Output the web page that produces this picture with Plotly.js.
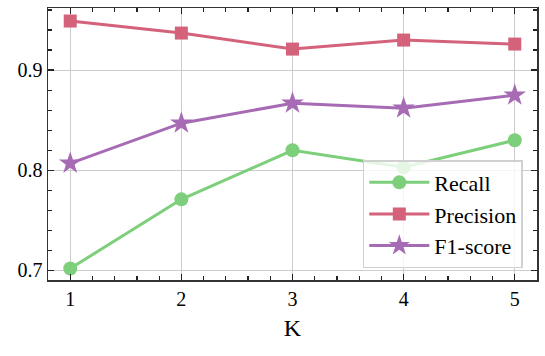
<!DOCTYPE html>
<html>
<head>
<meta charset="utf-8">
<script src="https://cdn.plot.ly/plotly-3.0.1.min.js"></script>
<style>html,body{margin:0;padding:0;background:#fff;}#chart{width:545px;height:356px;}</style>
</head>
<body>
<div id="chart"></div>
<script>
const kValues = [1, 2, 3, 4, 5];
const recall = [0.702, 0.771, 0.820, 0.803, 0.830];
const precision = [0.949, 0.937, 0.921, 0.930, 0.926];
const f1score = [0.807, 0.847, 0.867, 0.862, 0.875];
const seriesNames = ["Recall", "Precision", "F1-score"];

const font = "Liberation Serif, DejaVu Serif, serif";
const mk = (y, name, color, symbol, size) => ({
  x: kValues, y: y, name: name, type: "scatter", mode: "lines+markers",
  line: {color: color, width: 3},
  marker: {color: color, symbol: symbol, size: size}
});
const data = [
  mk(recall, seriesNames[0], "#7dcf7b", "circle", 14),
  mk(precision, seriesNames[1], "#d4627a", "square", 13),
  mk(f1score, seriesNames[2], "#a66bb4", "star", 17),
  {x: kValues, y: recall, xaxis: "x2", yaxis: "y2", type: "scatter", mode: "markers",
   marker: {opacity: 0}, showlegend: false, hoverinfo: "skip"}
];
const xRange = [0.8, 5.2], yRange = [0.6905, 0.962];
const axisCommon = {
  showline: true, linecolor: "#333", linewidth: 1.5,
  ticks: "inside", ticklen: 6, tickwidth: 1.3, tickcolor: "#222",
  showgrid: true, gridcolor: "#cccccc", gridwidth: 1,
  zeroline: false,
  tickfont: {family: font, size: 20, color: "#000"}
};
const xMinor = {dtick: 0.2, tick0: 0, ticks: "inside", ticklen: 4, tickwidth: 1.2, tickcolor: "#222", showgrid: false};
const yMinor = {dtick: 0.02, tick0: 0.7, ticks: "inside", ticklen: 4, tickwidth: 1.2, tickcolor: "#222", showgrid: false};
const layout = {
  width: 545, height: 356,
  margin: {l: 48, r: 8, t: 8, b: 76},
  paper_bgcolor: "#fff", plot_bgcolor: "#fff",
  font: {family: font, color: "#000"},
  xaxis: Object.assign({}, axisCommon, {
    range: xRange, tickvals: kValues, ticktext: kValues.map(String),
    minor: xMinor, mirror: "ticks",
    title: {text: "K", font: {family: font, size: 24}, standoff: 10}
  }),
  yaxis: Object.assign({}, axisCommon, {
    range: yRange, dtick: 0.1, tick0: 0.7, tickformat: ".1f",
    minor: yMinor, mirror: "ticks"
  }),
  xaxis2: Object.assign({}, axisCommon, {
    overlaying: "x", side: "top", anchor: "y2", range: xRange, tick0: 0, dtick: 0.2,
    ticklen: 4, tickwidth: 1.2, showticklabels: false, showgrid: false, showline: false
  }),
  yaxis2: Object.assign({}, axisCommon, {
    overlaying: "y", side: "right", anchor: "x2", range: yRange, tick0: 0.7, dtick: 0.02,
    ticklen: 4, tickwidth: 1.2, showticklabels: false, showgrid: false, showline: false
  }),
  showlegend: true,
  legend: {
    x: 0.971, y: 0.044, xanchor: "right", yanchor: "bottom",
    bgcolor: "rgba(255,255,255,0.8)", bordercolor: "#d0d0d0", borderwidth: 1.5,
    font: {family: font, size: 22}, tracegroupgap: 0, itemwidth: 60
  }
};
Plotly.newPlot("chart", data, layout, {displayModeBar: false, staticPlot: true});
</script>
</body>
</html>
